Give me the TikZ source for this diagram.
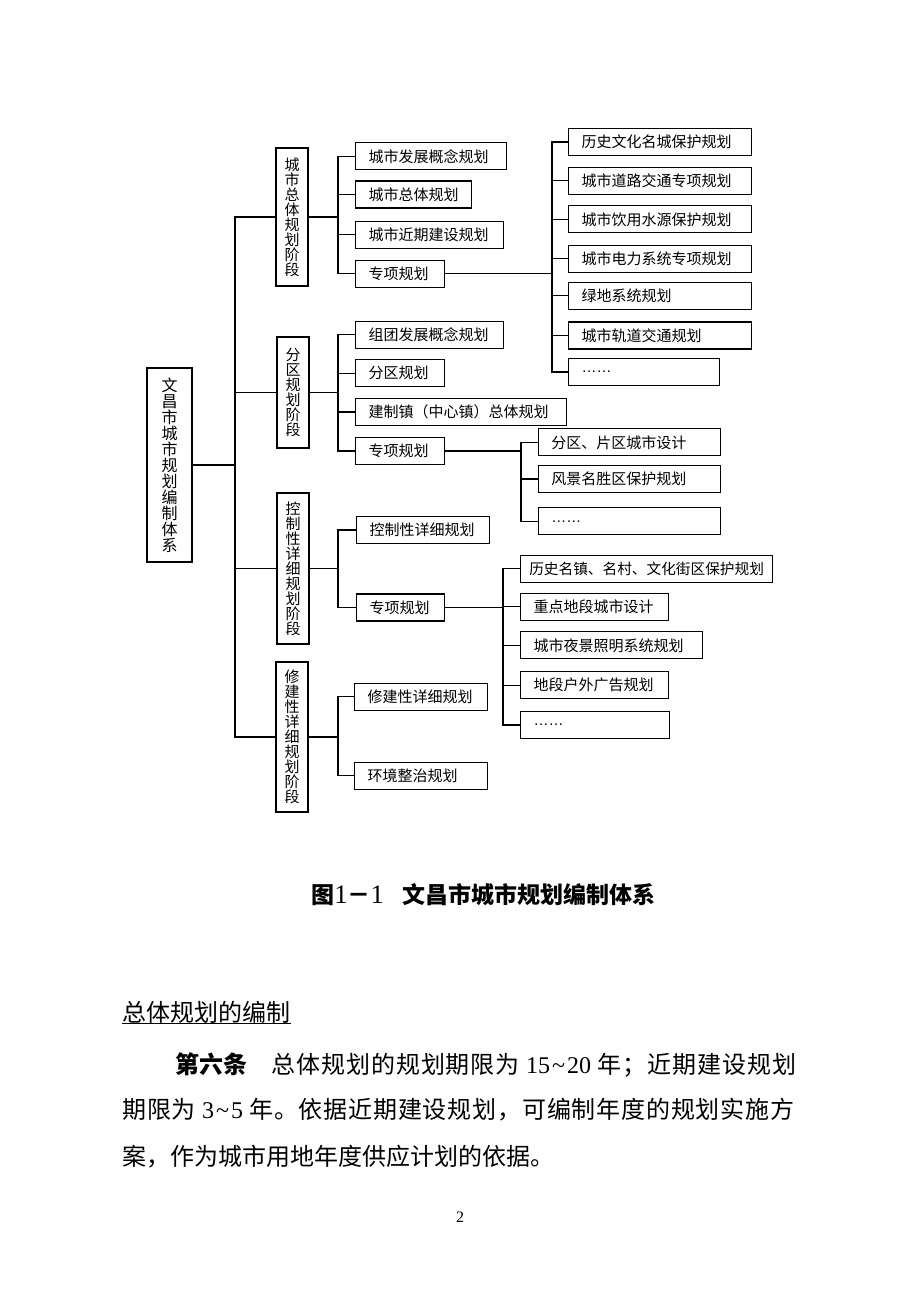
\documentclass[tikz,border=0pt]{standalone}
\usepackage{fontspec}
\setmainfont{Liberation Serif}
\newfontfamily\cjk{Noto Sans CJK SC}
\newfontfamily\dotsfont{Liberation Sans}
\newcommand{\boxfont}{\cjk\fontsize{11.25pt}{11.25pt}\selectfont}
\newcommand{\bodyfont}{\cjk\fontsize{18pt}{18pt}\selectfont}

\tikzset{
  mainbox/.style={draw, line width=0.9pt, inner sep=0pt, align=center,
    minimum width=33.75pt, minimum height=145.5pt, font=\cjk\fontsize{12pt}{12pt}\selectfont},
  stagebox/.style={draw, line width=0.9pt, inner sep=0pt, minimum width=24pt, align=center, font=\boxfont},
  leaf/.style={draw, line width=0.9pt, anchor=west, inner xsep=9.75pt, inner ysep=0pt,
    minimum height=20.25pt, text width=#1, align=left, font=\boxfont},
  link/.style={line width=0.9pt},
  body/.style={anchor=base west, inner sep=0pt, font=\bodyfont}
}

\begin{document}
\begin{tikzpicture}[x=0.75pt, y=-0.75pt]
  \useasboundingbox[fill=white] (0,0) rectangle (920,1302);

  % whole system and the four stages
  \node[mainbox] (main) at (169.5,465) {文\\昌\\市\\城\\市\\规\\划\\编\\制\\体\\系};
  \node[stagebox, minimum height=103.5pt] (s1) at (292,217) {城\\市\\总\\体\\规\\划\\阶\\段};
  \node[stagebox, minimum height=83.25pt] (s2) at (293,392.5) {分\\区\\规\\划\\阶\\段};
  \node[stagebox, minimum height=113.25pt] (s3) at (293,568.5) {控\\制\\性\\详\\细\\规\\划\\阶\\段};
  \node[stagebox, minimum height=112.5pt] (s4) at (292,737) {修\\建\\性\\详\\细\\规\\划\\阶\\段};

  % plans of each stage
  \node[leaf=93.75pt] (a1) at (355,156.4) {城市发展概念规划};
  \node[leaf=67.5pt] (a2) at (355,194.5) {城市总体规划};
  \node[leaf=91.5pt] (a3) at (355,234.7) {城市近期建设规划};
  \node[leaf=47.25pt] (a4) at (355,273.7) {专项规划};
  \node[leaf=91.5pt] (b1) at (355,334.7) {组团发展概念规划};
  \node[leaf=47.25pt] (b2) at (355,373.3) {分区规划};
  \node[leaf=138.75pt] (b3) at (355,412) {建制镇（中心镇）总体规划};
  \node[leaf=47.25pt] (b4) at (355,451) {专项规划};
  \node[leaf=80.25pt] (c1) at (356,530) {控制性详细规划};
  \node[leaf=46.5pt] (c2) at (356,607.5) {专项规划};
  \node[leaf=80pt] (d1) at (354,696.7) {修建性详细规划};
  \node[leaf=80pt] (d2) at (354,775.7) {环境整治规划};

  % special plans
  \node[leaf=117.75pt] (e1) at (568,142) {历史文化名城保护规划};
  \node[leaf=117.75pt] (e2) at (568,180.7) {城市道路交通专项规划};
  \node[leaf=117.75pt] (e3) at (568,219.3) {城市饮用水源保护规划};
  \node[leaf=117.75pt] (e4) at (568,258.7) {城市电力系统专项规划};
  \node[leaf=117.75pt] (e5) at (568,295.8) {绿地系统规划};
  \node[leaf=117.75pt] (e6) at (568,335.5) {城市轨道交通规划};
  \node[leaf=93.75pt] (e7) at (568,372) {\dotsfont ……};
  \node[leaf=117pt] (f1) at (537.7,442.3) {分区、片区城市设计};
  \node[leaf=117pt] (f2) at (537.7,479) {风景名胜区保护规划};
  \node[leaf=117pt] (f3) at (537.7,521.3) {\dotsfont ……};
  \node[leaf=176pt, inner xsep=6.5pt, font=\cjk\fontsize{11pt}{11pt}\selectfont] (g1) at (520,568.7) {历史名镇、名村、文化街区保护规划};
  \node[leaf=91.5pt] (g2) at (520,606.7) {重点地段城市设计};
  \node[leaf=117pt] (g3) at (520,645.3) {城市夜景照明系统规划};
  \node[leaf=91.5pt] (g4) at (520,685.3) {地段户外广告规划};
  \node[leaf=92.25pt] (g5) at (520,725) {\dotsfont ……};

  % trunks
  \coordinate (tx) at (235,0);
  \coordinate (ax) at (338,0);
  \coordinate (ex) at (552,0);
  \coordinate (fx) at (521,0);
  \coordinate (gx) at (503,0);

  \draw[link] (main.east) -- (tx |- main.east);
  \draw[link] (s1.west) -- (tx |- s1.west) -- (tx |- s4.west) -- (s4.west);
  \foreach \st in {s2,s3} \draw[link] (\st.west) -- (tx |- \st.west);

  \draw[link] (s1.east) -- (ax |- s1.east);
  \draw[link] (a1.west) -- (ax |- a1.west) -- (ax |- a4.west) -- (a4.west);
  \foreach \n in {a2,a3} \draw[link] (\n.west) -- (ax |- \n.west);
  \draw[link] (s2.east) -- (ax |- s2.east);
  \draw[link] (b1.west) -- (ax |- b1.west) -- (ax |- b4.west) -- (b4.west);
  \foreach \n in {b2,b3} \draw[link] (\n.west) -- (ax |- \n.west);
  \draw[link] (s3.east) -- (ax |- s3.east);
  \draw[link] (c1.west) -- (ax |- c1.west) -- (ax |- c2.west) -- (c2.west);
  \draw[link] (s4.east) -- (ax |- s4.east);
  \draw[link] (d1.west) -- (ax |- d1.west) -- (ax |- d2.west) -- (d2.west);

  \draw[link] (a4.east) -- (ex |- a4.east);
  \draw[link] (e1.west) -- (ex |- e1.west) -- (ex |- e7.west) -- (e7.west);
  \foreach \n in {e2,e3,e4,e5,e6} \draw[link] (\n.west) -- (ex |- \n.west);
  \draw[link] (b4.east) -- (fx |- b4.east);
  \draw[link] (f1.west) -- (fx |- f1.west) -- (fx |- f3.west) -- (f3.west);
  \draw[link] (f2.west) -- (fx |- f2.west);
  \draw[link] (c2.east) -- (gx |- c2.east);
  \draw[link] (g1.west) -- (gx |- g1.west) -- (gx |- g5.west) -- (g5.west);
  \foreach \n in {g2,g3,g4} \draw[link] (\n.west) -- (gx |- \n.west);

  % caption and text below
  \node[body, font=\cjk\bfseries\fontsize{17.25pt}{17.25pt}\selectfont] (cap) at (311,903)
    {图{\rmfamily\mdseries\fontsize{20pt}{20pt}\selectfont 1}－{\rmfamily\mdseries\fontsize{20pt}{20pt}\selectfont 1}\hspace{14pt}文昌市城市规划编制体系};
  \node[body] (hd) at (122,1021) {总体规划的编制};
  \draw[line width=0.6pt] (hd.south west) -- (hd.south east);
  \node[body] (p1) at (175,1073)
    {{\bfseries 第六条}　\addfontfeature{LetterSpace=4}总体规划的规划期限为 {\rmfamily 15\hspace{1.5pt}\textasciitilde\hspace{1.5pt}20} 年；近期建设规划};
  \node[body] (p2) at (122,1118)
    {\addfontfeature{LetterSpace=3.4}期限为 {\rmfamily 3\hspace{1.5pt}\textasciitilde\hspace{1.5pt}5} 年。依据近期建设规划，可编制年度的规划实施方};
  \node[body] (p3) at (122,1165) {案，作为城市用地年度供应计划的依据。};
  \node[inner sep=0pt, font=\rmfamily\fontsize{12pt}{12pt}\selectfont] (pg) at (460,1217) {2};
\end{tikzpicture}
\end{document}
